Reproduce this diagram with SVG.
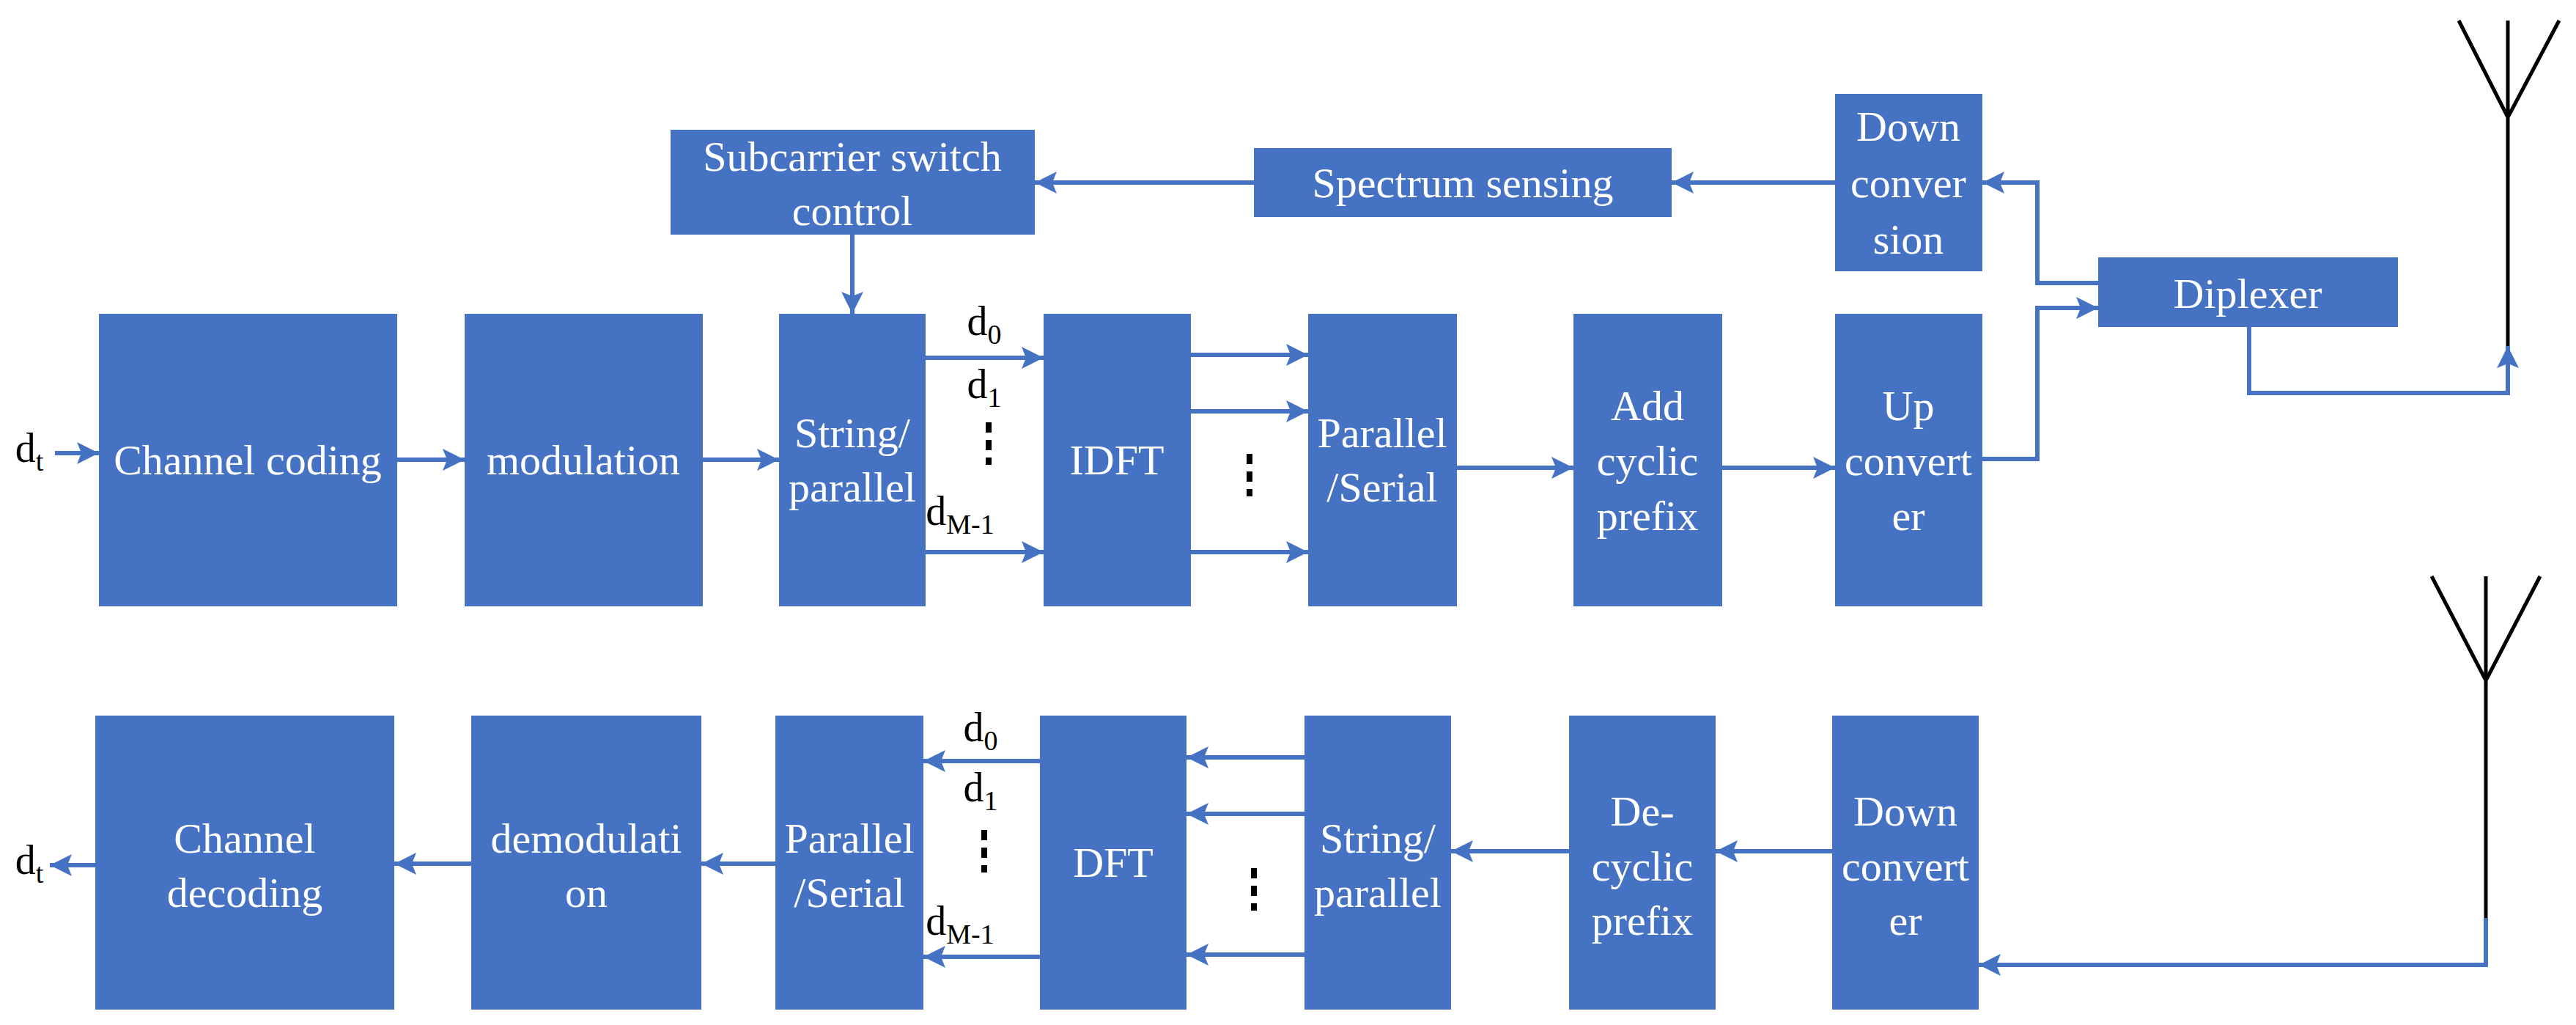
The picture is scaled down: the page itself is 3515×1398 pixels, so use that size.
<svg xmlns="http://www.w3.org/2000/svg" width="3515" height="1398" viewBox="0 0 3515 1398">
<style>
.b{fill:#4672C4}
.t{font-family:'Liberation Serif','Times New Roman','DejaVu Serif',serif;font-size:58px;fill:#fff;text-anchor:middle;dominant-baseline:central}
.k{font-family:'Liberation Serif','Times New Roman','DejaVu Serif',serif;font-size:56px;fill:#000;text-anchor:middle}
.s{font-size:38px}
.c{stroke:#4672C4;stroke-width:6;fill:none}
.a{stroke:#000;stroke-width:5;fill:none}
.d{stroke:#000;stroke-width:8;stroke-dasharray:14 10}
</style>
<defs>
<marker id="m" viewBox="0 0 10 10" refX="10" refY="5" markerWidth="5" markerHeight="5" orient="auto" markerUnits="strokeWidth">
<path d="M0,0 L10,5 L0,10 L2,5 Z" fill="#4672C4"/>
</marker>
</defs>
<g id="n1"><rect class="b" x="135" y="428" width="407" height="399"/><text class="t" x="338" y="627">Channel coding</text></g>
<g id="n2"><rect class="b" x="634" y="428" width="325" height="399"/><text class="t" x="796" y="627">modulation</text></g>
<g id="n3"><rect class="b" x="1063" y="428" width="200" height="399"/><text class="t" x="1163" y="590">String/</text><text class="t" x="1163" y="664">parallel</text></g>
<g id="n4"><rect class="b" x="1424" y="428" width="201" height="399"/><text class="t" x="1524" y="627">IDFT</text></g>
<g id="n5"><rect class="b" x="1785" y="428" width="203" height="399"/><text class="t" x="1886" y="590">Parallel</text><text class="t" x="1886" y="664">/Serial</text></g>
<g id="n6"><rect class="b" x="2147" y="428" width="203" height="399"/><text class="t" x="2248" y="553">Add</text><text class="t" x="2248" y="628">cyclic</text><text class="t" x="2248" y="703">prefix</text></g>
<g id="n7"><rect class="b" x="2504" y="428" width="201" height="399"/><text class="t" x="2604" y="553">Up</text><text class="t" x="2604" y="628">convert</text><text class="t" x="2604" y="703">er</text></g>
<g id="n8"><rect class="b" x="915" y="177" width="497" height="143"/><text class="t" x="1163" y="213">Subcarrier switch</text><text class="t" x="1163" y="287">control</text></g>
<g id="n9"><rect class="b" x="1711" y="202" width="570" height="94"/><text class="t" x="1996" y="249">Spectrum sensing</text></g>
<g id="n10"><rect class="b" x="2504" y="128" width="201" height="242"/><text class="t" x="2604" y="172">Down</text><text class="t" x="2604" y="249">conver</text><text class="t" x="2604" y="326">sion</text></g>
<g id="n11"><rect class="b" x="2863" y="351" width="409" height="95"/><text class="t" x="3067" y="400">Diplexer</text></g>
<g id="n12"><rect class="b" x="130" y="976" width="408" height="401"/><text class="t" x="334" y="1143">Channel</text><text class="t" x="334" y="1217">decoding</text></g>
<g id="n13"><rect class="b" x="643" y="976" width="314" height="401"/><text class="t" x="800" y="1143">demodulati</text><text class="t" x="800" y="1217">on</text></g>
<g id="n14"><rect class="b" x="1058" y="976" width="202" height="401"/><text class="t" x="1159" y="1143">Parallel</text><text class="t" x="1159" y="1217">/Serial</text></g>
<g id="n15"><rect class="b" x="1419" y="976" width="200" height="401"/><text class="t" x="1519" y="1176">DFT</text></g>
<g id="n16"><rect class="b" x="1780" y="976" width="200" height="401"/><text class="t" x="1880" y="1143">String/</text><text class="t" x="1880" y="1217">parallel</text></g>
<g id="n17"><rect class="b" x="2141" y="976" width="200" height="401"/><text class="t" x="2241" y="1106">De-</text><text class="t" x="2241" y="1181">cyclic</text><text class="t" x="2241" y="1255">prefix</text></g>
<g id="n18"><rect class="b" x="2500" y="976" width="200" height="401"/><text class="t" x="2600" y="1106">Down</text><text class="t" x="2600" y="1181">convert</text><text class="t" x="2600" y="1255">er</text></g>
<g id="labels">
<text class="k" x="40" y="630">d<tspan class="s" dy="12">t</tspan></text>
<text class="k" x="1343" y="457">d<tspan class="s" dy="12">0</tspan></text>
<text class="k" x="1343" y="543">d<tspan class="s" dy="12">1</tspan></text>
<text class="k" x="1310" y="716">d<tspan class="s" dy="12">M-1</tspan></text>
<text class="k" x="40" y="1192">d<tspan class="s" dy="12">t</tspan></text>
<text class="k" x="1338" y="1011">d<tspan class="s" dy="12">0</tspan></text>
<text class="k" x="1338" y="1093">d<tspan class="s" dy="12">1</tspan></text>
<text class="k" x="1310" y="1275">d<tspan class="s" dy="12">M-1</tspan></text>
<line class="d" x1="1349" y1="576" x2="1349" y2="634"/>
<line class="d" x1="1705" y1="619" x2="1705" y2="677"/>
<line class="d" x1="1343" y1="1132" x2="1343" y2="1190"/>
<line class="d" x1="1711" y1="1184" x2="1711" y2="1242"/>
</g>
<g id="antennas">
<path class="a" d="M3422,28 V472 M3355,28 L3422,160 L3492,28"/>
<path class="a" d="M3392,786 V1252 M3318,786 L3392,928 L3466,786"/>
</g>
<g id="connectors">
<path class="c" marker-end="url(#m)" d="M75,618 H135"/>
<path class="c" marker-end="url(#m)" d="M542,627 H634"/>
<path class="c" marker-end="url(#m)" d="M959,627 H1063"/>
<path class="c" marker-end="url(#m)" d="M1263,488 H1424"/>
<path class="c" marker-end="url(#m)" d="M1263,753 H1424"/>
<path class="c" marker-end="url(#m)" d="M1625,484 H1785"/>
<path class="c" marker-end="url(#m)" d="M1625,561 H1785"/>
<path class="c" marker-end="url(#m)" d="M1625,753 H1785"/>
<path class="c" marker-end="url(#m)" d="M1988,638 H2147"/>
<path class="c" marker-end="url(#m)" d="M2350,638 H2504"/>
<path class="c" marker-end="url(#m)" d="M2705,626 H2780 V420 H2863"/>
<path class="c" marker-end="url(#m)" d="M2863,386 H2780 V249 H2705"/>
<path class="c" marker-end="url(#m)" d="M2504,249 H2281"/>
<path class="c" marker-end="url(#m)" d="M1711,249 H1412"/>
<path class="c" marker-end="url(#m)" d="M1163,320 V428"/>
<path class="c" marker-end="url(#m)" d="M3069,446 V536 H3422 V472"/>
<path class="c" marker-end="url(#m)" d="M3392,1252 V1316 H2700"/>
<path class="c" marker-end="url(#m)" d="M2500,1161 H2341"/>
<path class="c" marker-end="url(#m)" d="M2141,1161 H1980"/>
<path class="c" marker-end="url(#m)" d="M1780,1033 H1619"/>
<path class="c" marker-end="url(#m)" d="M1780,1110 H1619"/>
<path class="c" marker-end="url(#m)" d="M1780,1302 H1619"/>
<path class="c" marker-end="url(#m)" d="M1419,1038 H1260"/>
<path class="c" marker-end="url(#m)" d="M1419,1305 H1260"/>
<path class="c" marker-end="url(#m)" d="M1058,1178 H957"/>
<path class="c" marker-end="url(#m)" d="M643,1178 H538"/>
<path class="c" marker-end="url(#m)" d="M130,1180 H68"/>
</g>
</svg>
